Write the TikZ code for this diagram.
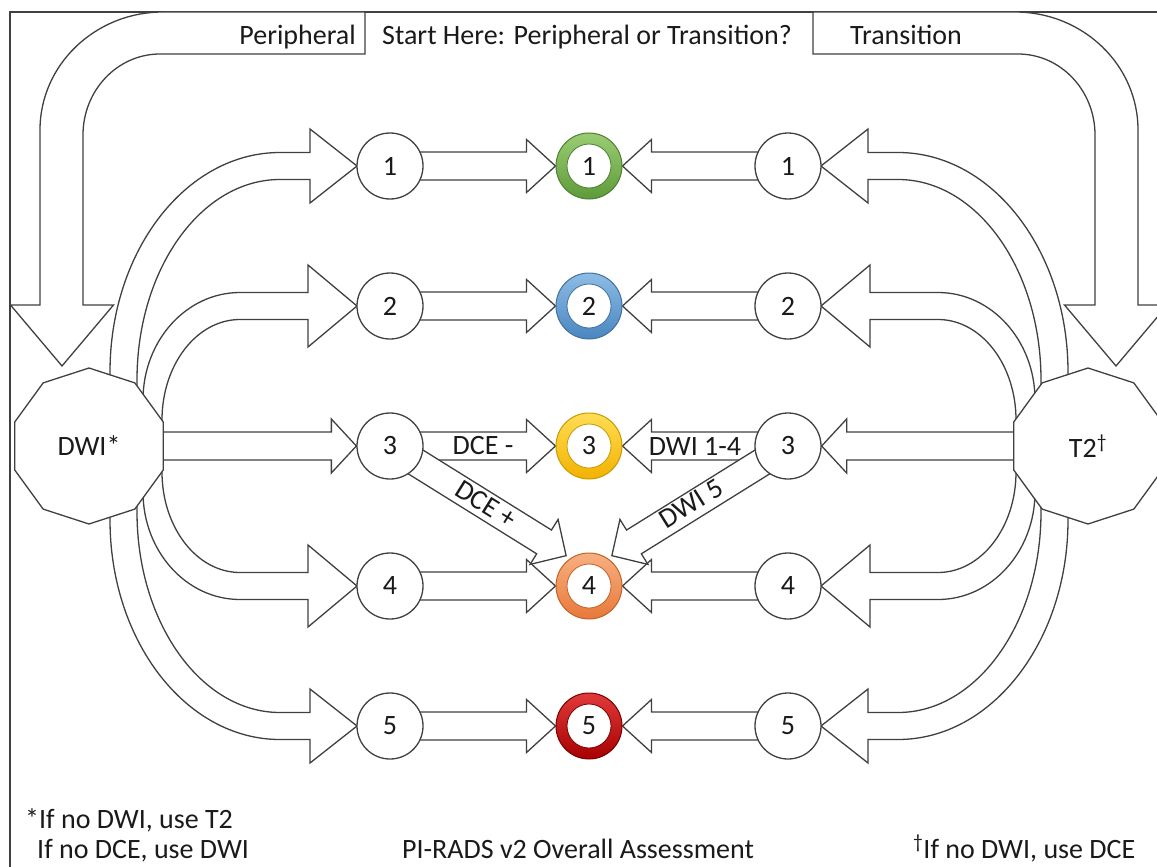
\documentclass[tikz,border=0pt]{standalone}
\usepackage{fontspec}
\setmainfont{Carlito}
\usetikzlibrary{calc}
\pgfdeclarelayer{bg}
\pgfsetlayers{bg,main}
\definecolor{ln}{HTML}{404040}
\definecolor{tx}{HTML}{1A1A1A}
\definecolor{gT}{HTML}{9ACD72}\definecolor{gB}{HTML}{5E9A3A}\definecolor{gD}{HTML}{507E32}
\definecolor{bT}{HTML}{8DBCE6}\definecolor{bB}{HTML}{4A86C0}\definecolor{bD}{HTML}{41719C}
\definecolor{yT}{HTML}{FFDD55}\definecolor{yB}{HTML}{F2B200}\definecolor{yD}{HTML}{C99A00}
\definecolor{oT}{HTML}{F7B080}\definecolor{oB}{HTML}{E8783A}\definecolor{oD}{HTML}{C0622A}
\definecolor{rT}{HTML}{E03A3A}\definecolor{rB}{HTML}{A80000}\definecolor{rD}{HTML}{7A0000}
\tikzset{
  barrow/.style={draw=ln, fill=white, line width=1.3pt, line join=miter},
  circ/.style={circle, draw=ln, fill=white, line width=1.3pt, minimum size=66pt, inner sep=0pt, text=tx},
  ringc/.style n args={3}{circle, minimum size=66pt, inner sep=0pt, top color=#1, bottom color=#2, draw=#3, line width=1pt},
  hole/.style={circle, minimum size=44pt, inner sep=0pt, fill=white, draw=#1, line width=0.8pt, text=tx},
  lbl/.style={inner sep=0pt, text=tx},
}
% block arrow: #1 start, #2 tip, #3 shaft half width, #4 head half width, #5 head length
\newcommand\blockarrow[5]{%
  \coordinate (bc) at ($(#2)!#5!(#1)$);
  \filldraw[barrow]
    ($(#1)!#3!90:(#2)$) --
    ($(bc)!#3!90:(#2)$) --
    ($(bc)!#4!90:(#2)$) --
    (#2) --
    ($(bc)!#4!-90:(#2)$) --
    ($(bc)!#3!-90:(#2)$) --
    ($(#1)!#3!-90:(#2)$) -- cycle;}
\newcommand\bigarr{%
  \filldraw[barrow] (365,12) -- (163,12) arc[start angle=270,end angle=180,x radius=123,y radius=118]
    -- (40,305) -- (10.5,305) -- (62,366) -- (113.5,305) -- (83,305) -- (83,135)
    arc[start angle=180,end angle=270,x radius=77,y radius=81] -- (365,54) -- cycle;}
\newcommand\dwiupper{%
  \filldraw[barrow] (110,400) -- (110,372) arc[start angle=180,end angle=270,x radius=170,y radius=219.5]
    -- (310,152.5) -- (310,129) -- (357,166) -- (310,203) -- (310,179.5) -- (280,179.5)
    arc[start angle=270,end angle=180,x radius=143,y radius=200.5] -- (137,400) -- cycle;
  \filldraw[barrow] (143,420) -- (143,400) arc[start angle=180,end angle=270,x radius=97,y radius=107.5]
    -- (308,292.5) -- (308,265) -- (357,306) -- (308,347) -- (308,319.5) -- (240,319.5)
    arc[start angle=270,end angle=180,x radius=78,y radius=100.5] -- (162,440) -- (143,440) -- cycle;}
\begin{document}
\begin{tikzpicture}[x=1pt,y=-1pt, font=\fontsize{28}{34}\selectfont]
\useasboundingbox (0,0) rectangle (1157,867);
% decagons
\coordinate (dwic) at (89,446);
\coordinate (t2c) at (1088,446);
\filldraw[barrow] ($(dwic)+(90:78)$) \foreach \a in {126,162,...,414} { -- ($(dwic)+(\a:78)$) } -- cycle;
\filldraw[barrow] ($(t2c)+(90:78)$) \foreach \a in {126,162,...,414} { -- ($(t2c)+(\a:78)$) } -- cycle;
\node[lbl] (DWI) at (dwic) {DWI*};
\node[lbl] (T2) at (t2c) {T2\textsuperscript{†}};
% circles
\foreach \i/\y in {1/166,2/306,3/446,4/586,5/726}{
  \node[circ] (L\i) at (390,\y) {\i};
  \node[circ] (R\i) at (788,\y) {\i};
}
\node[ringc={gT}{gB}{gD}] (M1) at (589,166) {};
\node[ringc={bT}{bB}{bD}] (M2) at (589,306) {};
\node[ringc={yT}{yB}{yD}] (M3) at (589,446) {};
\node[ringc={oT}{oB}{oD}] (M4) at (589,586) {};
\node[ringc={rT}{rB}{rD}] (M5) at (589,726) {};
\node[hole=gD] (M1t) at (M1) {1};
\node[hole=bD] (M2t) at (M2) {2};
\node[hole=yD] (M3t) at (M3) {3};
\node[hole=oD] (M4t) at (M4) {4};
\node[hole=rD] (M5t) at (M5) {5};
% labels
\node[lbl, anchor=base east] (per) at (356,45) {Peripheral};
\node[lbl, anchor=base] (start) at (587,45) {Start Here: Peripheral or Transition?};
\node[lbl, anchor=base west] (tra) at (850,45) {Transition};
\node[lbl] (dcem) at (483,446) {DCE -};
\node[lbl] (dwi14) at (695,446) {DWI 1-4};
\node[lbl, rotate=-32] (dcep) at (486,504) {DCE +};
\node[lbl, rotate=32] (dwi5) at (691,504) {DWI 5};
\node[lbl, anchor=base west] (n1) at (25,828) {*If no DWI, use T2};
\node[lbl, anchor=base west] (n2) at (37,858) {If no DCE, use DWI};
\node[lbl, anchor=base] (ttl) at (578,858) {PI-RADS v2 Overall Assessment};
\node[lbl, anchor=base west] (n3) at (913,858) {\textsuperscript{†}If no DWI, use DCE};
\coordinate (dl) at ($(M4.center)!38pt!(M4.127)$);
\coordinate (dr) at ($(M4.center)!38pt!(M4.53)$);
\begin{pgfonlayer}{bg}
  \clip (0,0) rectangle (1157,867);
  \draw[ln, line width=1.3pt] (1157,12) -- (10,12) -- (10,867);
  \bigarr
  \begin{scope}[xshift=1178pt, xscale=-1]\bigarr\end{scope}
  \dwiupper
  \begin{scope}[yshift=-892pt, yscale=-1]\dwiupper\end{scope}
  \begin{scope}[xshift=1178pt, xscale=-1]
    \dwiupper
    \begin{scope}[yshift=-892pt, yscale=-1]\dwiupper\end{scope}
  \end{scope}
  \blockarrow{dwic}{L3.west}{14pt}{27pt}{25pt}
  \blockarrow{t2c}{R3.east}{14pt}{27pt}{25pt}
  \foreach \i in {1,...,5}{
    \blockarrow{L\i}{M\i.west}{14pt}{26.5pt}{29pt}
    \blockarrow{R\i}{M\i.east}{14pt}{26.5pt}{29pt}
  }
  \blockarrow{L3}{dl}{14pt}{26.5pt}{26pt}
  \blockarrow{R3}{dr}{14pt}{26.5pt}{26pt}
\end{pgfonlayer}
\end{tikzpicture}
\end{document}
